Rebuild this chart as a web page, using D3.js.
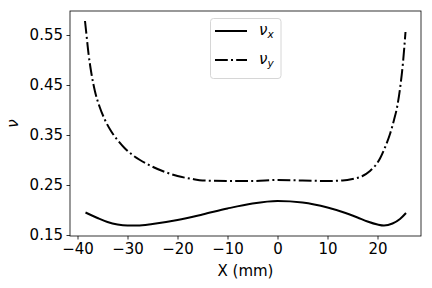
<!DOCTYPE html>
<html>
<head>
<meta charset="utf-8">
<script src="https://cdn.jsdelivr.net/npm/d3@7"></script>
<style>
  body { margin: 0; background: #fff; }
  text { font-family: "DejaVu Sans", sans-serif; fill: #000; }
</style>
</head>
<body>
<svg id="chart" width="432" height="288"></svg>
<script>
// x positions (mm) and Poisson ratios
var nuxX = [-38.4, -36, -34, -32, -30, -28, -25, -20, -15, -10, -5, 0, 5, 10, 13, 16, 18, 20, 21.3, 23, 24.5, 25.7];
var nuxY = [0.195, 0.184, 0.176, 0.171, 0.169, 0.169, 0.172, 0.180, 0.191, 0.203, 0.213, 0.218, 0.215, 0.205, 0.196, 0.185, 0.177, 0.171, 0.169, 0.173, 0.182, 0.194];

var nuyX = [-38.5, -38.2, -37.8, -37.2, -36.5, -35.6, -34.5, -33.3, -32, -30.5, -29, -27.5, -25.5, -23, -20, -17, -15, -10, -5, 0, 5, 10, 13, 15, 17, 18.5, 19.5, 20.5, 21.5, 22.5, 23.3, 24, 24.6, 25.1, 25.6];
var nuyY = [0.578, 0.55, 0.513, 0.472, 0.437, 0.407, 0.38, 0.358, 0.34, 0.323, 0.31, 0.30, 0.289, 0.278, 0.268, 0.262, 0.259, 0.258, 0.258, 0.260, 0.259, 0.258, 0.259, 0.262, 0.268, 0.278, 0.288, 0.303, 0.325, 0.352, 0.38, 0.41, 0.45, 0.495, 0.556];

var xTicks = [-40, -30, -20, -10, 0, 10, 20];
var yTicks = [0.15, 0.25, 0.35, 0.45, 0.55];

var margin = {top: 11, right: 11, bottom: 52, left: 70},
    width = 432 - margin.left - margin.right,
    height = 288 - margin.top - margin.bottom;

var svg = d3.select("#chart");
var g = svg.append("g")
    .attr("transform", "translate(" + margin.left + "," + margin.top + ")");

var x = d3.scaleLinear().domain([-41.5, 28.7]).range([0, width]);
var y = d3.scaleLinear().domain([0.148, 0.598]).range([height, 0]);

var line = d3.line()
    .x(function(d) { return x(d[0]); })
    .y(function(d) { return y(d[1]); })
    .curve(d3.curveMonotoneX);

var nux = d3.zip(nuxX, nuxY);
var nuy = d3.zip(nuyX, nuyY);

g.append("path").datum(nux)
    .attr("d", line)
    .attr("fill", "none")
    .attr("stroke", "#000")
    .attr("stroke-width", 2);

g.append("path").datum(nuy)
    .attr("d", line)
    .attr("fill", "none")
    .attr("stroke", "#000")
    .attr("stroke-width", 2)
    .attr("stroke-dasharray", "12.8,3.2,2,3.2");

// axes
var xAxis = g.append("g")
    .attr("transform", "translate(0," + height + ")")
    .call(d3.axisBottom(x).tickValues(xTicks).tickSize(3.5).tickPadding(3.5)
        .tickFormat(function(d) { return d < 0 ? "\u2212" + Math.abs(d) : d; }));
var yAxis = g.append("g")
    .call(d3.axisLeft(y).tickValues(yTicks).tickSize(3.5).tickPadding(3.5)
        .tickFormat(d3.format(".2f")));

[xAxis, yAxis].forEach(function(a) {
    a.select(".domain").remove();
    a.selectAll("line").attr("stroke", "#000").attr("stroke-width", 0.8);
    a.selectAll("text").style("font-size", "15px").attr("font-family", "DejaVu Sans");
});

g.append("rect")
    .attr("width", width).attr("height", height)
    .attr("fill", "none").attr("stroke", "#000").attr("stroke-width", 0.8);

// axis labels
svg.append("text")
    .attr("x", margin.left + width / 2).attr("y", 276)
    .attr("text-anchor", "middle")
    .style("font-size", "15px")
    .text("X (mm)");

svg.append("text")
    .attr("transform", "translate(18," + (margin.top + height / 2) + ") rotate(-90)")
    .attr("text-anchor", "middle")
    .style("font-size", "15px")
    .style("font-style", "italic")
    .text("\u03bd");

// legend
var legend = svg.append("g");
legend.append("rect")
    .attr("x", 210.5).attr("y", 18.5).attr("width", 70.5).attr("height", 60)
    .attr("rx", 3)
    .attr("fill", "#fff").attr("fill-opacity", 0.8)
    .attr("stroke", "#d6d6d6").attr("stroke-width", 1);

var items = [{sub: "x", dash: null, y: 31}, {sub: "y", dash: "12.8,3.2,2,3.2", y: 60}];
items.forEach(function(it) {
    legend.append("line")
        .attr("x1", 215).attr("x2", 247).attr("y1", it.y).attr("y2", it.y)
        .attr("stroke", "#000").attr("stroke-width", 2)
        .attr("stroke-dasharray", it.dash);
    var t = legend.append("text")
        .attr("x", 259).attr("y", it.y + 4)
        .style("font-size", "15px")
        .style("font-style", "italic");
    t.append("tspan").text("\u03bd");
    t.append("tspan").attr("dy", 3).style("font-size", "10.5px").text(it.sub);
});
</script>
</body>
</html>
